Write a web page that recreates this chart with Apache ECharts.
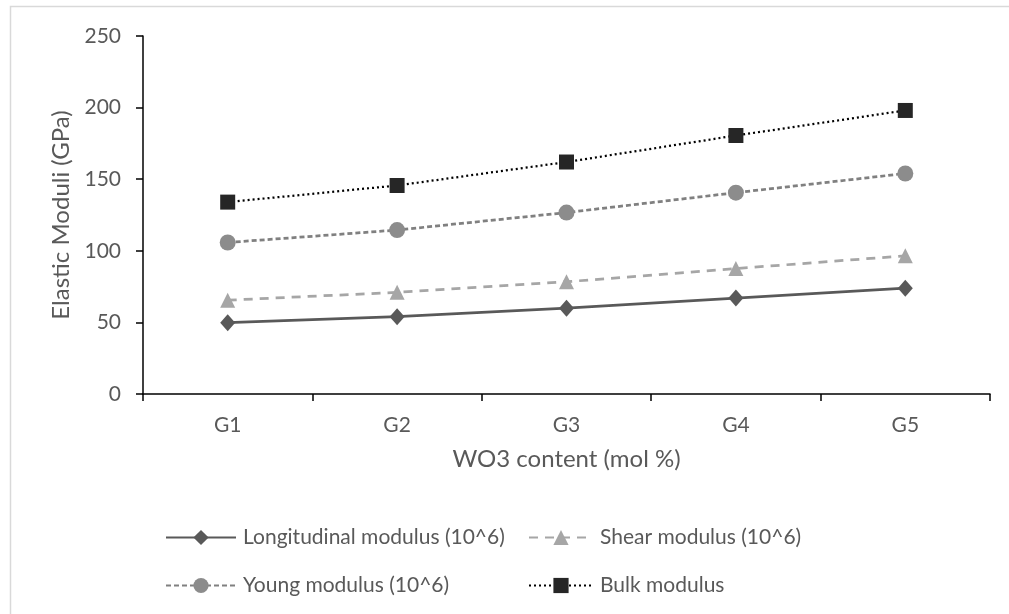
<!DOCTYPE html>
<html>
<head>
<meta charset="utf-8">
<script src="https://cdn.jsdelivr.net/npm/echarts@6/dist/echarts.min.js"></script>
<style>
  html, body { margin: 0; padding: 0; background: #fff; }
  #chart { width: 1009px; height: 614px; }
</style>
</head>
<body>
<div id="chart"></div>
<script>
// Glass samples and their elastic moduli (GPa)
var categories = ['G1', 'G2', 'G3', 'G4', 'G5'];
var longitudinal = [49.8, 54.0, 59.9, 67.0, 73.9];
var shear = [65.5, 71.0, 78.4, 87.6, 96.5];
var young = [105.8, 114.5, 126.7, 140.6, 154.0];
var bulk = [134.0, 145.6, 162.0, 180.5, 198.0];
var yTicks = [0, 50, 100, 150, 200, 250];
var seriesNames = ['Longitudinal modulus (10^6)', 'Shear modulus (10^6)', 'Young modulus (10^6)', 'Bulk modulus'];

var FONT = 'Lato, "Open Sans", sans-serif';
var TEXT = '#595959';

var chart = echarts.init(document.getElementById('chart'), null, { renderer: 'canvas' });

function series(name, data, opt) {
  return {
    name: name,
    type: 'line',
    data: data,
    symbol: opt.symbol,
    symbolSize: opt.size,
    showSymbol: true,
    lineStyle: { color: opt.line, width: opt.width, type: opt.dash },
    itemStyle: { color: opt.fill, borderWidth: 0 },
    emphasis: { disabled: true },
    z: opt.z
  };
}

// one legend block per entry, laid out in two rows
function legendItem(name, left, top, width) {
  return {
    left: left, top: top,
    itemWidth: width, itemHeight: 19,
    textStyle: { fontFamily: FONT, fontSize: 21, color: TEXT, padding: [0, 0, 0, 2] },
    data: [name]
  };
}

chart.setOption({
  animation: false,
  backgroundColor: '#fff',
  graphic: [{
    type: 'rect',
    shape: { x: 10.5, y: 6.5, width: 1010, height: 620 },
    style: { fill: 'none', stroke: '#d9d9d9', lineWidth: 1.5 },
    silent: true
  }],
  grid: { left: 143, right: 19, top: 36, bottom: 220, containLabel: false },
  legend: [
    legendItem(seriesNames[0], 160, 522, 70),
    legendItem(seriesNames[1], 523, 522, 64),
    legendItem(seriesNames[2], 160, 570, 70),
    legendItem(seriesNames[3], 523, 570, 64)
  ],
  xAxis: {
    type: 'category',
    data: categories,
    boundaryGap: true,
    name: 'WO3 content (mol %)',
    nameLocation: 'middle',
    nameGap: 53,
    nameTextStyle: { fontFamily: FONT, fontSize: 24, color: TEXT },
    axisLine: { lineStyle: { color: '#000', width: 1.5 } },
    axisTick: { show: true, length: 7, inside: false, lineStyle: { color: '#000', width: 1.5 } },
    axisLabel: { fontFamily: FONT, fontSize: 21, color: TEXT, margin: 21 },
    splitLine: { show: false }
  },
  yAxis: {
    type: 'value',
    min: yTicks[0],
    max: yTicks[yTicks.length - 1],
    interval: yTicks[1] - yTicks[0],
    name: 'Elastic Moduli (GPa)',
    nameLocation: 'middle',
    nameGap: 70,
    nameRotate: 90,
    nameTextStyle: { fontFamily: FONT, fontSize: 24, color: TEXT },
    axisLine: { show: true, lineStyle: { color: '#000', width: 1.5 } },
    axisTick: { show: true, length: 7, inside: false, lineStyle: { color: '#000', width: 1.5 } },
    axisLabel: { fontFamily: FONT, fontSize: 21, color: TEXT, margin: 22 },
    splitLine: { show: false }
  },
  series: [
    series(seriesNames[0], longitudinal,
      { symbol: 'diamond', size: [15, 17], line: '#595959', fill: '#595959', width: 2.75, dash: 'solid', z: 4 }),
    series(seriesNames[1], shear,
      { symbol: 'triangle', size: [15, 15], line: '#a6a6a6', fill: '#a6a6a6', width: 2.75, dash: [9, 7], z: 3 }),
    series(seriesNames[2], young,
      { symbol: 'circle', size: 16, line: '#808080', fill: '#8c8c8c', width: 2.75, dash: [5, 3], z: 2 }),
    series(seriesNames[3], bulk,
      { symbol: 'rect', size: 15, line: '#000', fill: '#262626', width: 2.25, dash: [2, 3], z: 5 })
  ]
});
</script>
</body>
</html>
